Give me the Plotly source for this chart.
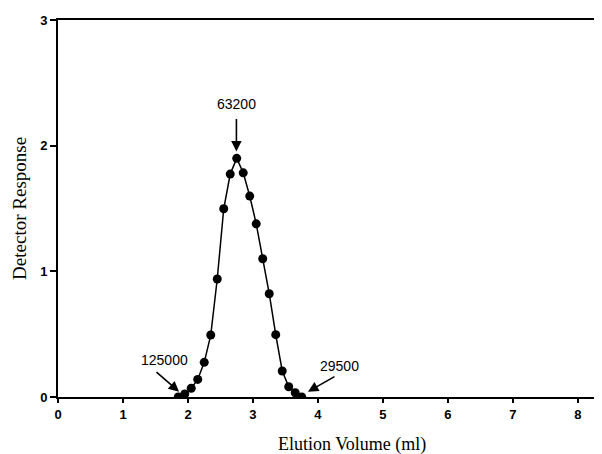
import plotly.graph_objects as go

elution_ml = [1.85, 1.95, 2.05, 2.15, 2.25, 2.35, 2.45, 2.55, 2.65, 2.75,
              2.85, 2.95, 3.05, 3.15, 3.25, 3.35, 3.45, 3.55, 3.65, 3.75]
response = [0.00, 0.024, 0.07, 0.14, 0.276, 0.493, 0.939, 1.498, 1.774, 1.899,
            1.784, 1.599, 1.378, 1.10, 0.822, 0.496, 0.207, 0.082, 0.034, 0.00]

x_ticks = [0, 1, 2, 3, 4, 5, 6, 7, 8]
y_ticks = [0, 1, 2, 3]

x_title = "Elution Volume (ml)"
y_title = "Detector Response"

mw_labels = ["63200", "125000", "29500"]
mw_label_x = [2.745, 1.642, 4.334]
mw_label_y = [2.335, 0.294, 0.246]
arrow_tip_x = [2.745, 1.862, 3.846]
arrow_tip_y = [1.954, 0.042, 0.042]
arrow_dx = [0, -24, 28]
arrow_dy = [-34, -21, -16]

fig = go.Figure()
fig.add_trace(go.Scatter(
    x=elution_ml, y=response, mode="lines+markers",
    line=dict(color="black", width=1.5),
    marker=dict(color="black", size=9),
    showlegend=False,
))

for t, lx, ly in zip(mw_labels, mw_label_x, mw_label_y):
    fig.add_annotation(x=lx, y=ly, xref="x", yref="y", text=t, showarrow=False,
                       font=dict(family="Liberation Sans, Arial", size=14, color="black"))
for tx, ty, dx, dy in zip(arrow_tip_x, arrow_tip_y, arrow_dx, arrow_dy):
    fig.add_annotation(x=tx, y=ty, xref="x", yref="y", text="", showarrow=True,
                       ax=dx, ay=dy, arrowhead=2, arrowsize=1.3, arrowwidth=1.6,
                       arrowcolor="black")

fig.add_annotation(x=0.54, y=-0.125, xref="paper", yref="paper", text=x_title,
                   showarrow=False, xanchor="center", yanchor="middle",
                   font=dict(family="Liberation Serif, Times New Roman", size=18, color="black"))
fig.add_annotation(x=-0.071, y=0.50, xref="paper", yref="paper", text=y_title,
                   showarrow=False, textangle=-90, xanchor="center", yanchor="middle",
                   font=dict(family="Liberation Serif, Times New Roman", size=19, color="black"))

fig.update_layout(
    width=594, height=446,
    margin=dict(l=50, r=0, t=12, b=57),
    paper_bgcolor="white", plot_bgcolor="white",
    xaxis=dict(
        range=[0, 8.37], tickvals=x_ticks, ticktext=[str(v) for v in x_ticks],
        showgrid=False, zeroline=False, automargin=False,
        showline=True, linecolor="black", linewidth=2, mirror=True,
        ticks="outside", ticklen=4, tickcolor="black", tickwidth=1.5,
        tickfont=dict(family="Liberation Sans, Arial", size=13, color="black", weight="bold"),
    ),
    yaxis=dict(
        range=[0, 3], tickvals=y_ticks, ticktext=[str(v) for v in y_ticks],
        showgrid=False, zeroline=False, automargin=False,
        showline=True, linecolor="black", linewidth=2,
        ticks="outside", ticklen=6, tickcolor="black", tickwidth=1.5,
        tickfont=dict(family="Liberation Sans, Arial", size=13, color="black", weight="bold"),
    ),
)

fig.write_html("out.html")
